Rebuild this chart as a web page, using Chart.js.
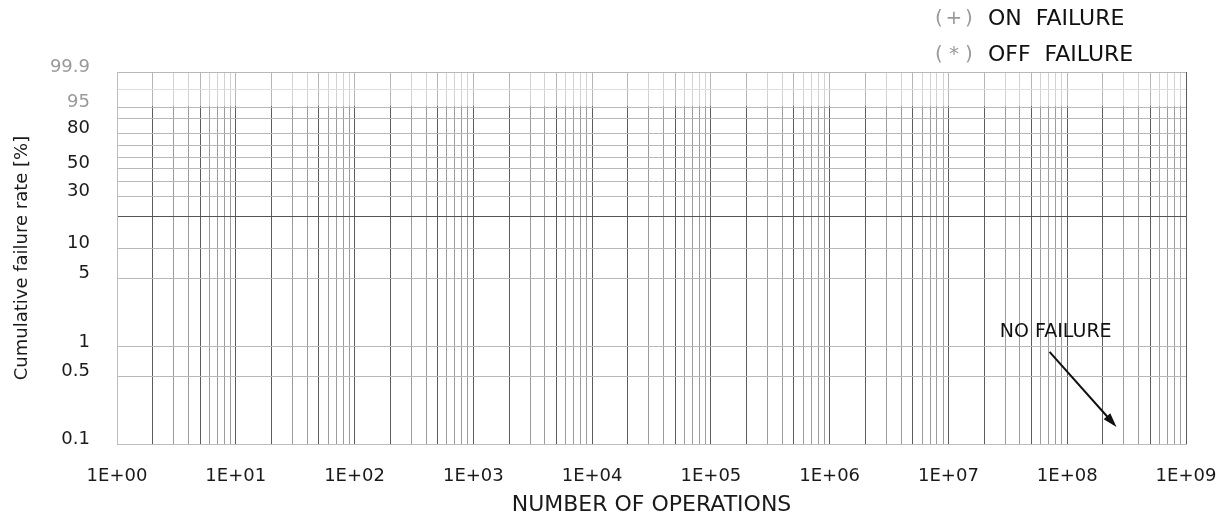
<!DOCTYPE html>
<html>
<head>
<meta charset="utf-8">
<script src="https://cdn.jsdelivr.net/npm/chart.js@4"></script>
<style>
  html, body { margin: 0; padding: 0; background: #fff; }
  #wrap { width: 1228px; height: 518px; }
</style>
</head>
<body>
<div id="wrap"><canvas id="myChart"></canvas></div>
<script>
// data - no failures were recorded, so both series stay empty
const onFailure = [];
const offFailure = [];
const legendMarks = ['(+)', '(*)'];
const legendLabels = ['ON FAILURE', 'OFF FAILURE'];
const xMin = 1, xMax = 1e9;
const xLabelPowers = [0, 1, 2, 3, 4, 5, 6, 7, 8, 9];
const yGridPercents = [0.1, 0.5, 1, 5, 10, 20, 30, 40, 50, 60, 70, 80, 90, 95, 99, 99.9];
const yLabelPercents = [0.1, 0.5, 1, 5, 10, 30, 50, 80, 95, 99.9];
const greyLabels = [95, 99.9];
const noFailureText = [8e7, 1.42];          // [operations, %]
const noFailureArrow = [[7.1e7, 0.89], [2.6e8, 0.15]];

// weibull scale for cumulative failure rate
const weib = p => Math.log(-Math.log(1 - p / 100));

const FONT = "'DejaVu Sans', sans-serif";

const xTicks = [];
for (let e = 0; e < 9; e++) {
  for (let s = 1; s <= 9; s++) xTicks.push({ value: s * Math.pow(10, e), major: s === 1 });
}
xTicks.push({ value: xMax, major: true });

const yTicks = yGridPercents.map(p => ({ value: weib(p) }));

// lighten top band (vertical lines are dotted there in the original)
const topBand = {
  id: 'topBand',
  beforeDatasetsDraw(chart) {
    const { ctx, chartArea, scales } = chart;
    const y1 = scales.y.getPixelForValue(weib(99.9));
    const y2 = scales.y.getPixelForValue(weib(95));
    ctx.save();
    ctx.fillStyle = 'rgba(255,255,255,0.55)';
    ctx.fillRect(chartArea.left + 1, y1 + 1, chartArea.right - chartArea.left - 1, y2 - y1 - 2);
    ctx.restore();
  }
};

const notes = {
  id: 'notes',
  afterDraw(chart) {
    const { ctx, scales } = chart;
    const x = scales.x, y = scales.y;
    ctx.save();
    // legend
    ctx.textBaseline = 'middle';
    legendLabels.forEach((lab, i) => {
      const ly = 19 + i * 36;
      ctx.font = '20px ' + FONT;
      ctx.fillStyle = '#9a9a9a';
      ctx.textAlign = 'center';
      ctx.fillText('(', 939, ly);
      ctx.fillText(legendMarks[i][1], 954, ly);
      ctx.fillText(')', 969, ly);
      ctx.fillStyle = '#111';
      ctx.textAlign = 'left';
      ctx.font = '22px ' + FONT;
      ctx.fillText(lab.replace(' ', '  '), 988, ly);
    });
    // NO FAILURE annotation
    ctx.fillStyle = '#111';
    ctx.textAlign = 'center';
    ctx.font = '19px ' + FONT;
    ctx.fillText('NO FAILURE', x.getPixelForValue(noFailureText[0]), y.getPixelForValue(weib(noFailureText[1])));
    const ax1 = x.getPixelForValue(noFailureArrow[0][0]), ay1 = y.getPixelForValue(weib(noFailureArrow[0][1]));
    const ax2 = x.getPixelForValue(noFailureArrow[1][0]), ay2 = y.getPixelForValue(weib(noFailureArrow[1][1]));
    const ang = Math.atan2(ay2 - ay1, ax2 - ax1);
    ctx.strokeStyle = '#111';
    ctx.lineWidth = 2;
    ctx.beginPath();
    ctx.moveTo(ax1, ay1);
    ctx.lineTo(ax2 - 10 * Math.cos(ang), ay2 - 10 * Math.sin(ang));
    ctx.stroke();
    ctx.beginPath();
    ctx.moveTo(ax2, ay2);
    ctx.lineTo(ax2 - 15 * Math.cos(ang - 0.3), ay2 - 15 * Math.sin(ang - 0.3));
    ctx.lineTo(ax2 - 15 * Math.cos(ang + 0.3), ay2 - 15 * Math.sin(ang + 0.3));
    ctx.closePath();
    ctx.fill();
    ctx.restore();
  }
};

const config = {
  type: 'scatter',
  data: {
    datasets: [
      { label: 'ON FAILURE', data: onFailure, pointStyle: 'cross', borderColor: '#888' },
      { label: 'OFF FAILURE', data: offFailure, pointStyle: 'star', borderColor: '#888' }
    ]
  },
  options: {
    responsive: true,
    maintainAspectRatio: false,
    animation: false,
    layout: { padding: { top: 72, right: 42, left: 0, bottom: 0 } },
    plugins: { legend: { display: false }, tooltip: { enabled: false } },
    scales: {
      x: {
        type: 'logarithmic',
        min: xMin,
        max: xMax,
        afterBuildTicks: s => { s.ticks = xTicks.map(t => ({ ...t })); },
        afterFit: s => { s.height = 74; s.paddingLeft = 0; s.paddingRight = 0; },
        border: { display: true, color: '#bdbdbd' },
        grid: {
          drawTicks: false,
          color: ctx => {
            const v = ctx.tick ? ctx.tick.value : 1;
            const sig = Math.round(v / Math.pow(10, Math.floor(Math.log10(v) + 1e-9)));
            return (sig === 1 || sig === 2 || sig === 5) ? '#5c5c5c' : '#9c9c9c';
          },
          lineWidth: 1
        },
        ticks: {
          autoSkip: false,
          maxRotation: 0,
          padding: 22,
          color: '#1a1a1a',
          font: { family: FONT, size: 18 },
          callback: (value) => {
            const e = Math.round(Math.log10(value));
            if (Math.abs(Math.pow(10, e) - value) < 1e-6 * value && xLabelPowers.includes(e)) {
              return '1E+' + String(e).padStart(2, '0');
            }
            return '';
          }
        },
        title: {
          display: true,
          text: 'NUMBER OF OPERATIONS',
          color: '#1a1a1a',
          font: { family: FONT, size: 22 },
          padding: { top: 0, bottom: 0 }
        }
      },
      y: {
        type: 'linear',
        min: weib(0.1),
        max: weib(99.9),
        afterBuildTicks: s => { s.ticks = yTicks.map(t => ({ ...t })); },
        afterFit: s => { s.width = 117; s.paddingTop = 0; s.paddingBottom = 0; },
        border: { display: true, color: '#bdbdbd' },
        grid: {
          drawTicks: false,
          color: ctx => (yGridPercents[ctx.index] === 20 ? '#555' : '#b8b8b8'),
          lineWidth: 1
        },
        ticks: {
          autoSkip: false,
          padding: 27,
          labelOffset: -5,
          color: ctx => (greyLabels.includes(yGridPercents[ctx.index]) ? '#9a9a9a' : '#1a1a1a'),
          font: { family: FONT, size: 18 },
          callback: (value, index) => {
            const p = yGridPercents[index];
            return yLabelPercents.includes(p) ? String(p) : '';
          }
        },
        title: {
          display: true,
          text: 'Cumulative failure rate [%]',
          color: '#1a1a1a',
          font: { family: FONT, size: 18 },
          padding: { top: 12, bottom: 0 }
        }
      }
    }
  },
  plugins: [topBand, notes]
};

const myChart = new Chart(document.getElementById('myChart'), config);
</script>
</body>
</html>
